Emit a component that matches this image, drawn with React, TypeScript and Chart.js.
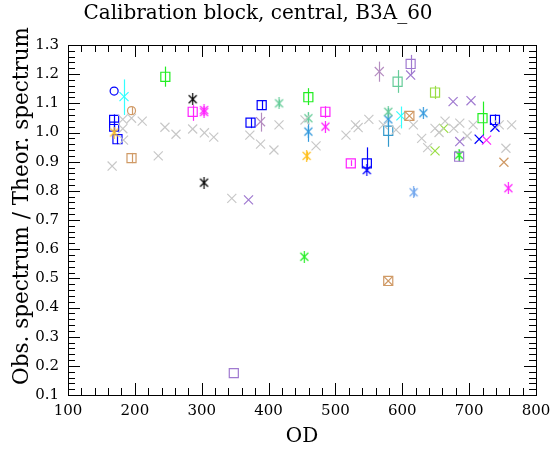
import React, { useEffect, useRef } from "react";
import { Chart, registerables } from "chart.js";

Chart.register(...registerables);

const TITLE = "Calibration block, central, B3A_60";
const X_TITLE = "OD";
const Y_TITLE = "Obs. spectrum / Theor. spectrum";
const X_MIN = 100, X_MAX = 800, X_STEP = 100, X_MINOR = 20;
const Y_MIN = 0.1, Y_MAX = 1.3, Y_STEP = 0.1, Y_MINOR = 0.02;

// [OD, ratio, errLow, errHigh]
type P = [number, number, number?, number?];

const grayCross: P[] = [
  [166, 0.885], [182, 1.045], [195, 1.049], [211, 1.039], [182, 1.013], [183, 0.974],
  [235, 0.92], [245, 1.018], [261.5, 0.994], [286.5, 1.012], [304, 0.999], [318, 0.984],
  [345, 0.774], [372, 0.991], [388, 0.96], [408, 0.94], [415.6, 1.026], [454.5, 1.043],
  [471, 0.954], [515.8, 0.991], [530, 1.026], [534, 1.017], [550, 1.045], [571.6, 1.026],
  [590.6, 1.009], [616.5, 1.026], [629, 0.98], [638, 0.948], [649, 1.014], [655, 1.0],
  [664, 1.039], [677, 1.014], [686, 1.032], [697, 0.988], [706, 1.026], [745, 1.026],
  [755, 0.946], [763.6, 1.026],
];
const blueSquares: P[] = [
  [169, 1.043, 1.0, 1.062], [169, 1.02, 0.998, 1.04], [174, 0.977, 0.96, 0.995],
  [373, 1.034, 1.015, 1.05], [389.7, 1.094, 1.08, 1.11], [547, 0.894, 0.871, 0.949],
  [738.6, 1.043, 1.025, 1.062],
];
const blueCircles: P[] = [[169, 1.142]];
const blueStars: P[] = [[547, 0.871]];
const blueCross: P[] = [[715, 0.977], [738.6, 1.018]];
const cyanCross: P[] = [[183.8, 1.123, 1.06, 1.182], [598, 1.057, 1.014, 1.089]];
const tanCircles: P[] = [[195, 1.075, 1.063, 1.087]];
const tanSquares: P[] = [[195, 0.912, 0.895, 0.93], [610.6, 1.057], [579, 0.491]];
const tanCross: P[] = [[610.6, 1.057], [579, 0.491], [752, 0.898]];
const greenSquares: P[] = [
  [245.6, 1.191, 1.157, 1.226], [459.5, 1.121, 1.094, 1.152], [720, 1.049, 0.991, 1.106],
];
const greenStars: P[] = [[453.4, 0.574], [685, 0.923, 0.91, 0.94]];
const blackStars: P[] = [[286.5, 1.114], [303.5, 0.828]];
const magentaSquares: P[] = [
  [286.5, 1.071, 1.04, 1.094], [485, 1.071, 1.05, 1.09], [523, 0.894, 0.885, 0.905],
];
const magentaStars: P[] = [[303.5, 1.077], [303.5, 1.07], [485, 1.02], [758.6, 0.809]];
const magentaCross: P[] = [[726, 0.974]];
const mauveCross: P[] = [[388, 1.037, 1.003, 1.068], [565.6, 1.209, 1.174, 1.243]];
const aquaStars: P[] = [[415.6, 1.1, 1.088, 1.113], [459.5, 1.049, 1.03, 1.068], [579, 1.071, 1.058, 1.085]];
const aquaSquares: P[] = [[593, 1.174, 1.136, 1.214]];
const goldStars: P[] = [[457, 0.92, 0.905, 0.935], [169, 1.0]];
const steelStars: P[] = [[459.5, 1.003, 0.968, 1.043], [579, 1.045], [631.5, 1.066]];
const steelSquares: P[] = [[579, 1.006, 0.951, 1.083]];
const cornflowerStars: P[] = [[617, 0.795, 0.78, 0.81]];
const purpleSquares: P[] = [[612.5, 1.235, 1.197, 1.266], [348, 0.175], [685, 0.917, 0.9, 0.935]];
const purpleCross: P[] = [[612.5, 1.197], [370, 0.769], [676, 1.106], [702.8, 1.109], [686, 0.969]];
const ygSquares: P[] = [[649, 1.137, 1.115, 1.16]];
const ygCross: P[] = [[662, 1.014], [649, 0.937]];

const FONT = "'DejaVu Serif', serif";

function starImage(color: string): HTMLCanvasElement {
  const c = document.createElement("canvas");
  c.width = 11;
  c.height = 12;
  const g = c.getContext("2d")!;
  g.strokeStyle = color;
  g.lineWidth = 1.2;
  g.beginPath();
  g.moveTo(1.5, 2); g.lineTo(9.5, 10);
  g.moveTo(9.5, 2); g.lineTo(1.5, 10);
  g.moveTo(5.5, 0); g.lineTo(5.5, 12);
  g.stroke();
  return c;
}

type Kind = "cross" | "star" | "square" | "circle";

function ds(pts: P[], color: string, kind: Kind) {
  let pointStyle: any = "crossRot";
  let radius = 6.4;
  if (kind === "star") { pointStyle = starImage(color); radius = 6; }
  if (kind === "square") { pointStyle = "rect"; radius = 6.4; }
  if (kind === "circle") { pointStyle = "circle"; radius = 4; }
  return {
    data: pts.map((p) => ({ x: p[0], y: p[1] })),
    errLow: pts.map((p) => (p[2] === undefined ? null : p[2])),
    errHigh: pts.map((p) => (p[3] === undefined ? null : p[3])),
    borderColor: color,
    backgroundColor: "rgba(0,0,0,0)",
    pointStyle,
    pointRadius: radius,
    pointHoverRadius: radius,
    pointBorderWidth: 1.2,
    showLine: false,
  };
}

const errorBars = {
  id: "errorBars",
  beforeDatasetsDraw(chart: any) {
    const { ctx, scales } = chart;
    ctx.save();
    chart.data.datasets.forEach((d: any) => {
      ctx.strokeStyle = d.borderColor;
      ctx.lineWidth = 1.2;
      d.data.forEach((pt: any, i: number) => {
        const lo = d.errLow[i], hi = d.errHigh[i];
        if (lo === null || hi === null) return;
        const px = Math.round(scales.x.getPixelForValue(pt.x)) + 0.5;
        ctx.beginPath();
        ctx.moveTo(px, scales.y.getPixelForValue(lo));
        ctx.lineTo(px, scales.y.getPixelForValue(hi));
        ctx.stroke();
      });
    });
    ctx.restore();
  },
};

const frame = {
  id: "frame",
  afterDraw(chart: any) {
    const { ctx, chartArea: a, scales } = chart;
    ctx.save();
    ctx.strokeStyle = "#000";
    ctx.lineWidth = 1;
    ctx.strokeRect(a.left + 0.5, a.top + 0.5, a.right - a.left, a.bottom - a.top);
    ctx.beginPath();
    const nx = Math.round((X_MAX - X_MIN) / X_MINOR);
    for (let i = 0; i <= nx; i++) {
      const v = X_MIN + i * X_MINOR;
      const len = i % 5 === 0 ? 12 : 7;
      const px = Math.round(scales.x.getPixelForValue(v)) + 0.5;
      ctx.moveTo(px, a.bottom); ctx.lineTo(px, a.bottom - len);
      ctx.moveTo(px, a.top); ctx.lineTo(px, a.top + len);
    }
    const ny = Math.round((Y_MAX - Y_MIN) / Y_MINOR);
    for (let i = 0; i <= ny; i++) {
      const v = Y_MIN + i * Y_MINOR;
      const len = i % 5 === 0 ? 12 : 7;
      const py = Math.round(scales.y.getPixelForValue(v)) + 0.5;
      ctx.moveTo(a.left, py); ctx.lineTo(a.left + len, py);
      ctx.moveTo(a.right, py); ctx.lineTo(a.right - len, py);
    }
    ctx.stroke();
    // titles
    ctx.fillStyle = "#000";
    ctx.textAlign = "center";
    ctx.textBaseline = "middle";
    ctx.font = `20px ${FONT}`;
    ctx.fillText(TITLE, 258, 14);
    ctx.fillText(X_TITLE, (a.left + a.right) / 2, 437);
    ctx.font = `21.5px ${FONT}`;
    ctx.translate(22, 206);
    ctx.rotate(-Math.PI / 2);
    ctx.fillText(Y_TITLE, 0, 0);
    ctx.restore();
  },
};

export default function App() {
  const ref = useRef<HTMLCanvasElement>(null);
  useEffect(() => {
    const chart = new Chart(ref.current!, {
      type: "scatter",
      data: {
        datasets: [
          ds(grayCross, "#c8c8c8", "cross"),
          ds(tanSquares, "#d09a66", "square"),
          ds(tanCross, "#d09a66", "cross"),
          ds(tanCircles, "#d09a66", "circle"),
          ds(purpleSquares, "#a07ad0", "square"),
          ds(purpleCross, "#a07ad0", "cross"),
          ds(mauveCross, "#b48cc0", "cross"),
          ds(ygSquares, "#99dd44", "square"),
          ds(ygCross, "#99dd44", "cross"),
          ds(aquaStars, "#66cc99", "star"),
          ds(aquaSquares, "#66cc99", "square"),
          ds(steelStars, "#3399dd", "star"),
          ds(steelSquares, "#3399cc", "square"),
          ds(cornflowerStars, "#77aaee", "star"),
          ds(goldStars, "#ffc020", "star"),
          ds(greenSquares, "#22ee22", "square"),
          ds(greenStars, "#22ee22", "star"),
          ds(cyanCross, "#33ffff", "cross"),
          ds(magentaSquares, "#ff22ff", "square"),
          ds(magentaStars, "#ff22ff", "star"),
          ds(magentaCross, "#ff22ff", "cross"),
          ds(blackStars, "#000000", "star"),
          ds(blueSquares, "#0000ff", "square"),
          ds(blueCircles, "#0000ff", "circle"),
          ds(blueStars, "#0000ff", "star"),
          ds(blueCross, "#0000ff", "cross"),
        ] as any,
      },
      options: {
        animation: false,
        responsive: false,
        devicePixelRatio: 1,
        layout: { padding: { left: 0, right: 15, top: 45, bottom: 0 } },
        plugins: {
          legend: { display: false },
          tooltip: { enabled: false },
          title: { display: false },
        },
        scales: {
          x: {
            type: "linear",
            min: X_MIN,
            max: X_MAX,
            grid: { display: false, drawTicks: false },
            border: { display: false },
            ticks: {
              stepSize: X_STEP,
              color: "#000",
              font: { family: FONT, size: 15 },
              padding: 7,
              maxRotation: 0,
              callback: (v: any) => String(Math.round(v)),
            },
            afterFit: (s: any) => {
              s.height = 56;
              s.paddingLeft = 0;
              s.paddingRight = 0;
            },
          },
          y: {
            type: "linear",
            min: Y_MIN,
            max: Y_MAX,
            grid: { display: false, drawTicks: false },
            border: { display: false },
            ticks: {
              stepSize: Y_STEP,
              color: "#000",
              font: { family: FONT, size: 15 },
              padding: 9,
              callback: (v: any) => Number(v).toFixed(1),
            },
            afterFit: (s: any) => {
              s.width = 68;
              s.paddingTop = 0;
              s.paddingBottom = 0;
            },
          },
        },
      },
      plugins: [errorBars, frame],
    });
    return () => chart.destroy();
  }, []);
  return (
    <div style={{ position: "absolute", left: 0, top: 0, width: 551, height: 451, background: "#fff" }}>
      <canvas ref={ref} width={551} height={451} />
    </div>
  );
}
